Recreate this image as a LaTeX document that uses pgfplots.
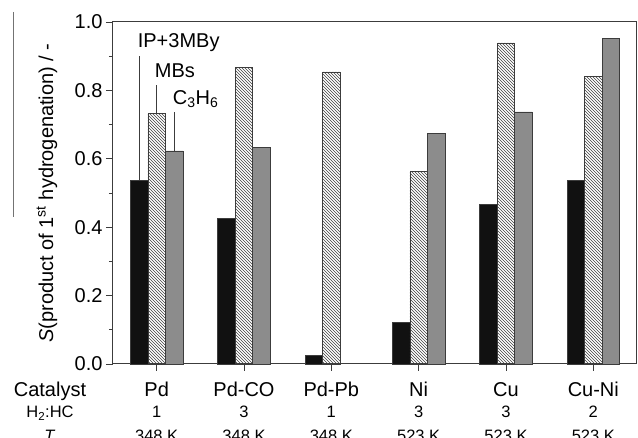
\documentclass[border=0pt]{standalone}
\usepackage{fontspec}
\setmainfont{Liberation Sans}
\usepackage{pgfplots}
\pgfplotsset{compat=1.18}
\usetikzlibrary{patterns}
\definecolor{axgray}{RGB}{60,60,60}
\definecolor{barblack}{RGB}{17,17,17}
\definecolor{bargray}{RGB}{140,140,140}
\newcommand\fa{\fontsize{20}{24}\selectfont}
\newcommand\fb{\fontsize{16.5}{20}\selectfont}
\begin{document}
\begin{tikzpicture}
\begin{axis}[
  at={(0pt,0pt)}, anchor=south west,
  scale only axis, width=524pt, height=342pt,
  xmin=-0.5, xmax=5.5, ymin=0, ymax=1,
  ybar, bar width=0.2,
  xtick={0,1,2,3,4,5}, xticklabels={,,,,,},
  ytick={0,0.2,0.4,0.6,0.8,1.0},
  minor ytick={0.1,0.3,0.5,0.7,0.9},
  tick align=outside, xtick pos=bottom, ytick pos=left,
  major tick length=7pt, minor tick length=4pt,
  axis line style={axgray, line width=1pt},
  every tick/.style={axgray, line width=0.8pt},
  yticklabel style={font=\fa, /pgf/number format/fixed, /pgf/number format/fixed zerofill, /pgf/number format/precision=1, /pgf/number format/assume math mode=true},
  ylabel={\textit{S}(product of 1\textsuperscript{st} hydrogenation) / -},
  ylabel style={font=\fa, at={(rel axis cs:-0.126,0.5)}, anchor=center},
  clip=false,
]
\addplot[fill=barblack, draw=axgray, line width=0.6pt, bar shift=-0.2] coordinates {(0,0.536)(1,0.426)(2,0.026)(3,0.121)(4,0.467)(5,0.536)};
\addplot[pattern=north west lines, pattern color=black!75, draw=axgray, line width=0.6pt, bar shift=0] coordinates {(0,0.733)(1,0.867)(2,0.854)(3,0.563)(4,0.939)(5,0.841)};
\addplot[fill=bargray, draw=axgray, line width=0.6pt, bar shift=0.2] coordinates {(0,0.623)(1,0.634)(3,0.674)(4,0.737)(5,0.952)};
% annotations
\draw[axgray, line width=0.7pt] (axis cs:-0.2,0.536) -- (axis cs:-0.2,0.900);
\draw[axgray, line width=0.7pt] (axis cs:0,0.733) -- (axis cs:0,0.816);
\draw[axgray, line width=0.7pt] (axis cs:0.2,0.623) -- (axis cs:0.2,0.737);
\node[anchor=base west, font=\fa, inner sep=0pt] at (axis cs:-0.218,0.924) {IP+3MBy};
\node[anchor=base west, font=\fa, inner sep=0pt] at (axis cs:-0.023,0.839) {MBs};
\node[anchor=base west, font=\fa, inner sep=0pt] at (axis cs:0.183,0.760) {C\textsubscript{3}H\textsubscript{6}};
% bottom rows
\node[anchor=base, font=\fa, inner sep=0pt, xshift=-63pt, yshift=-33pt] at (rel axis cs:0,0) {Catalyst};
\node[anchor=base, font=\fb, inner sep=0pt, xshift=-63pt, yshift=-54pt] at (rel axis cs:0,0) {H\textsubscript{2}:HC};
\node[anchor=base, font=\fb, inner sep=0pt, xshift=-63pt, yshift=-78pt] at (rel axis cs:0,0) {\textit{T}};
\node[anchor=base, font=\fa, inner sep=0pt, yshift=-33pt] at (axis cs:0,0) {Pd};
\node[anchor=base, font=\fa, inner sep=0pt, yshift=-33pt] at (axis cs:1,0) {Pd-CO};
\node[anchor=base, font=\fa, inner sep=0pt, yshift=-33pt] at (axis cs:2,0) {Pd-Pb};
\node[anchor=base, font=\fa, inner sep=0pt, yshift=-33pt] at (axis cs:3,0) {Ni};
\node[anchor=base, font=\fa, inner sep=0pt, yshift=-33pt] at (axis cs:4,0) {Cu};
\node[anchor=base, font=\fa, inner sep=0pt, yshift=-33pt] at (axis cs:5,0) {Cu-Ni};
\node[anchor=base, font=\fb, inner sep=0pt, yshift=-54pt] at (axis cs:0,0) {1};
\node[anchor=base, font=\fb, inner sep=0pt, yshift=-54pt] at (axis cs:1,0) {3};
\node[anchor=base, font=\fb, inner sep=0pt, yshift=-54pt] at (axis cs:2,0) {1};
\node[anchor=base, font=\fb, inner sep=0pt, yshift=-54pt] at (axis cs:3,0) {3};
\node[anchor=base, font=\fb, inner sep=0pt, yshift=-54pt] at (axis cs:4,0) {3};
\node[anchor=base, font=\fb, inner sep=0pt, yshift=-54pt] at (axis cs:5,0) {2};
\node[anchor=base, font=\fb, inner sep=0pt, yshift=-78pt] at (axis cs:0,0) {348 K};
\node[anchor=base, font=\fb, inner sep=0pt, yshift=-78pt] at (axis cs:1,0) {348 K};
\node[anchor=base, font=\fb, inner sep=0pt, yshift=-78pt] at (axis cs:2,0) {348 K};
\node[anchor=base, font=\fb, inner sep=0pt, yshift=-78pt] at (axis cs:3,0) {523 K};
\node[anchor=base, font=\fb, inner sep=0pt, yshift=-78pt] at (axis cs:4,0) {523 K};
\node[anchor=base, font=\fb, inner sep=0pt, yshift=-78pt] at (axis cs:5,0) {523 K};
\end{axis}
\draw[black!55, line width=0.8pt] (-100pt,352pt) -- (-100pt,147pt);
\pgfresetboundingbox
\useasboundingbox (-113pt,-74pt) rectangle (525pt,364pt);
\end{tikzpicture}
\end{document}
